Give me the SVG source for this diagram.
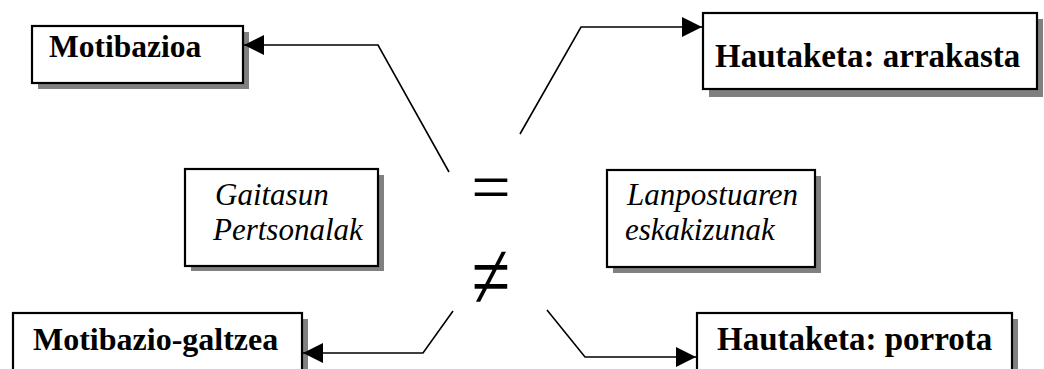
<svg xmlns="http://www.w3.org/2000/svg" width="1044" height="369" viewBox="0 0 1044 369">
<defs>
<marker id="ah" markerWidth="20" markerHeight="20" viewBox="0 0 20 20" refX="20" refY="10" orient="auto" markerUnits="userSpaceOnUse">
<path d="M0,0 L20,10 L0,20 Z" fill="#000"/>
</marker>
<style>
.box{fill:#fff;stroke:#000;stroke-width:2.2}
.sh{fill:#808080}
.b{font-family:"Liberation Serif","Times New Roman",serif;font-weight:bold;font-size:32px;fill:#000}
.i{font-family:"Liberation Serif","Times New Roman",serif;font-style:italic;font-size:31px;fill:#000}
.op{font-family:"Liberation Serif","Times New Roman",serif;font-size:70px;fill:#000;text-anchor:middle}
.c{fill:none;stroke:#000;stroke-width:1.6}
</style>
</defs>
<rect width="1044" height="369" fill="#fff"/>
<g id="motibazioa">
<rect class="sh" x="38" y="32" width="211" height="57"/>
<rect class="box" x="32" y="26" width="211" height="57"/>
<text class="b" x="49" y="57" style="font-size:31.5px">Motibazioa</text>
</g>
<g id="arrakasta">
<rect class="sh" x="709" y="19" width="334" height="78"/>
<rect class="box" x="703" y="13" width="334" height="76"/>
<text class="b" x="715" y="67" style="font-size:33px">Hautaketa: arrakasta</text>
</g>
<g id="gaitasun">
<rect class="sh" x="191" y="175" width="193" height="96"/>
<rect class="box" x="185" y="169" width="193" height="97"/>
<text class="i" x="215" y="205">Gaitasun</text>
<text class="i" x="213" y="240">Pertsonalak</text>
</g>
<g id="lanpostua">
<rect class="sh" x="613" y="176" width="208" height="97"/>
<rect class="box" x="607" y="170" width="208" height="97"/>
<text class="i" x="627" y="205">Lanpostuaren</text>
<text class="i" x="625" y="240">eskakizunak</text>
</g>
<g id="galtzea">
<rect class="sh" x="19" y="319" width="289" height="60"/>
<rect class="box" x="13" y="313" width="289" height="60"/>
<text class="b" x="33" y="350">Motibazio-galtzea</text>
</g>
<g id="porrota">
<rect class="sh" x="703" y="319" width="315" height="60"/>
<rect class="box" x="697" y="313" width="315" height="60"/>
<text class="b" x="717" y="350" style="font-size:33px">Hautaketa: porrota</text>
</g>
<g id="operators">
<text class="op" x="491" y="211">=</text>
<text class="op" x="491" y="300" transform="translate(491,278) scale(1,1.35) translate(-491,-278)">≠</text>
</g>
<g id="connectors">
<polyline class="c" points="449,172 378,45 244,45" marker-end="url(#ah)"/>
<polyline class="c" points="520,134 581,27 702,27" marker-end="url(#ah)"/>
<polyline class="c" points="453,311 423,353 303,353" marker-end="url(#ah)"/>
<polyline class="c" points="547,310 585,357 696,357" marker-end="url(#ah)"/>
</g>
</svg>
